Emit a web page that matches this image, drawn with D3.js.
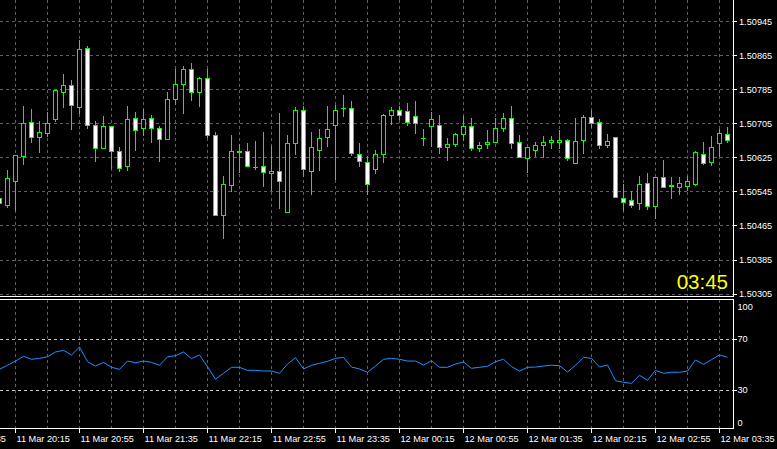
<!DOCTYPE html>
<html><head><meta charset="utf-8">
<script src="https://cdn.jsdelivr.net/npm/d3@7/dist/d3.min.js"></script>
<style>html,body{margin:0;padding:0;background:#000;overflow:hidden}</style>
</head><body>
<svg id="c" width="777" height="449"></svg>
<script>
// ---- data (5-minute candles, index -1 .. 90) ----
const firstIndex = -1;
const opens = [1.50529,1.50512,1.50569,1.50628,1.50708,1.50673,1.50681,1.50714,1.50778,1.50795,1.50742,1.50882,1.50701,1.50646,1.50699,1.50640,1.50604,1.50718,1.50693,1.50718,1.50694,1.50668,1.50761,1.50796,1.50832,1.50778,1.50811,1.50678,1.50490,1.50560,1.50640,1.50640,1.50603,1.50605,1.50588,1.50593,1.50496,1.50658,1.50736,1.50592,1.50641,1.50672,1.50700,1.50741,1.50741,1.50633,1.50614,1.50598,1.50633,1.50724,1.50736,1.50734,1.50722,1.50670,1.50698,1.50701,1.50649,1.50656,1.50679,1.50699,1.50646,1.50656,1.50660,1.50694,1.50718,1.50661,1.50624,1.50642,1.50654,1.50660,1.50660,1.50666,1.50612,1.50666,1.50720,1.50708,1.50654,1.50673,1.50529,1.50525,1.50518,1.50565,1.50511,1.50579,1.50560,1.50556,1.50558,1.50563,1.50633,1.50614,1.50659,1.50680];
const highs = [1.50535,1.50594,1.50631,1.50744,1.50739,1.50709,1.50732,1.50782,1.50821,1.50805,1.50899,1.50887,1.50711,1.50721,1.50699,1.50650,1.50746,1.50730,1.50737,1.50723,1.50698,1.50779,1.50831,1.50838,1.50847,1.50814,1.50831,1.50685,1.50582,1.50678,1.50655,1.50659,1.50664,1.50683,1.50652,1.50728,1.50678,1.50742,1.50746,1.50683,1.50692,1.50744,1.50748,1.50770,1.50758,1.50659,1.50628,1.50641,1.50727,1.50743,1.50745,1.50751,1.50758,1.50692,1.50732,1.50723,1.50669,1.50682,1.50721,1.50718,1.50661,1.50688,1.50718,1.50728,1.50745,1.50676,1.50649,1.50661,1.50674,1.50674,1.50688,1.50668,1.50716,1.50724,1.50736,1.50715,1.50680,1.50673,1.50563,1.50546,1.50580,1.50588,1.50579,1.50619,1.50579,1.50579,1.50581,1.50640,1.50661,1.50674,1.50692,1.50696];
const lows = [1.50514,1.50509,1.50502,1.50608,1.50660,1.50637,1.50674,1.50710,1.50742,1.50691,1.50728,1.50693,1.50617,1.50646,1.50599,1.50592,1.50596,1.50643,1.50678,1.50660,1.50617,1.50668,1.50749,1.50728,1.50760,1.50744,1.50673,1.50490,1.50435,1.50545,1.50590,1.50605,1.50598,1.50557,1.50549,1.50505,1.50496,1.50632,1.50582,1.50538,1.50594,1.50651,1.50575,1.50721,1.50631,1.50604,1.50539,1.50587,1.50613,1.50702,1.50715,1.50700,1.50681,1.50653,1.50651,1.50634,1.50618,1.50651,1.50666,1.50643,1.50639,1.50646,1.50660,1.50686,1.50647,1.50626,1.50590,1.50627,1.50626,1.50646,1.50646,1.50619,1.50612,1.50634,1.50695,1.50646,1.50649,1.50532,1.50501,1.50508,1.50504,1.50504,1.50482,1.50556,1.50529,1.50538,1.50549,1.50560,1.50610,1.50607,1.50628,1.50661];
const closes = [1.50518,1.50577,1.50631,1.50706,1.50673,1.50685,1.50706,1.50782,1.50795,1.50747,1.50879,1.50700,1.50646,1.50699,1.50639,1.50599,1.50715,1.50689,1.50715,1.50693,1.50668,1.50762,1.50797,1.50832,1.50778,1.50811,1.50677,1.50490,1.50563,1.50640,1.50638,1.50605,1.50603,1.50591,1.50593,1.50569,1.50659,1.50736,1.50598,1.50649,1.50671,1.50692,1.50736,1.50741,1.50634,1.50617,1.50563,1.50633,1.50724,1.50736,1.50724,1.50708,1.50706,1.50670,1.50715,1.50649,1.50656,1.50680,1.50699,1.50646,1.50654,1.50661,1.50694,1.50718,1.50659,1.50626,1.50649,1.50654,1.50661,1.50666,1.50666,1.50624,1.50663,1.50720,1.50706,1.50654,1.50663,1.50532,1.50520,1.50513,1.50563,1.50511,1.50579,1.50556,1.50558,1.50565,1.50570,1.50638,1.50612,1.50649,1.50682,1.50666];
const rsiValues = [46.2,49.4,52.7,56.4,54.1,54.8,56.1,59.8,61.1,57.5,63.7,52.2,48.8,51.7,47.8,46.2,52.7,51.4,52.7,51.7,49.4,56.1,56.9,59.8,54.6,57.5,48.3,38.4,43.1,47.8,47.8,45.4,45.4,44.9,44.9,43.1,50.4,55.4,46.5,49.4,50.9,52.5,54.8,55.6,48.0,46.5,43.9,48.8,54.1,54.8,54.1,52.7,52.7,49.6,53.0,47.8,47.8,50.4,52.0,47.0,47.8,48.6,52.2,54.1,48.3,44.9,47.8,48.0,48.8,49.4,49.1,44.1,49.4,55.6,54.8,48.0,49.6,37.3,36.0,35.2,41.5,37.6,45.4,43.1,43.9,43.9,44.9,53.5,50.1,53.8,57.5,55.6];
const priceTicks = [1.50945,1.50865,1.50785,1.50705,1.50625,1.50545,1.50465,1.50385,1.50305];
const rsiTicks = [100,70,30,0];
const rsiLevels = [70,30];
const timeLabels = ["11 Mar 19:35","11 Mar 20:15","11 Mar 20:55","11 Mar 21:35","11 Mar 22:15","11 Mar 22:55","11 Mar 23:35","12 Mar 00:15","12 Mar 00:55","12 Mar 01:35","12 Mar 02:15","12 Mar 02:55","12 Mar 03:35"];
const timeLabelFirstIndex = -7, timeLabelStep = 8;
const clockText = "03:45";

// ---- layout ----
const axisX = 733.5, mainBottom = 296.5, subTop = 299.5, subBottom = 428.5;
const FONT = "'Liberation Sans', Arial, sans-serif";
const svg = d3.select("#c");
svg.append("rect").attr("width",777).attr("height",449).attr("fill","#000");

const x = d3.scaleLinear().domain([-1, 90]).range([-0.5, 727.5]);
const y = d3.scaleLinear().domain([1.50305, 1.50945]).range([294.1, 21.3]);
const yr = d3.scaleLinear().domain([0, 100]).range([428.25, 300.75]);
const snap = v => Math.floor(v) + 0.5;

const gridColor = "#5f5f5f";
const g = svg.append("g").attr("shape-rendering","crispEdges");

// vertical grid (every 4 candles)
const gridIdx = d3.range(1, 91, 4);
g.selectAll(".vg").data(gridIdx).join("line")
  .attr("x1", d => x(d)).attr("x2", d => x(d))
  .attr("y1", 0).attr("y2", subBottom)
  .attr("stroke", gridColor).attr("stroke-dasharray","3,3");

// horizontal price grid
g.selectAll(".hg").data(priceTicks).join("line")
  .attr("x1", 0).attr("x2", axisX)
  .attr("y1", d => snap(y(d))).attr("y2", d => snap(y(d)))
  .attr("stroke", gridColor).attr("stroke-dasharray","3,3");

// rsi levels
g.selectAll(".lv").data(rsiLevels).join("line")
  .attr("x1", 0).attr("x2", axisX)
  .attr("y1", d => snap(yr(d))).attr("y2", d => snap(yr(d)))
  .attr("stroke", "#c8c8c8").attr("stroke-dasharray","3,3");

// candles
const candles = opens.map((o,i) => ({k: firstIndex + i, o, h: highs[i], l: lows[i], c: closes[i]}));
const cg = svg.append("g").attr("shape-rendering","crispEdges");
const lime = "#00ff00";
candles.forEach(d => {
  const cx = x(d.k);
  const yh = snap(y(d.h)), yl = snap(y(d.l));
  cg.append("line").attr("x1",cx).attr("x2",cx).attr("y1",yh-0.5).attr("y2",yl+0.5)
    .attr("stroke",lime);
  const yo = snap(y(d.o)), yc = snap(y(d.c));
  const top = Math.min(yo,yc), bot = Math.max(yo,yc);
  if (bot - top < 1) {
    cg.append("line").attr("x1",cx-2.5).attr("x2",cx+2.5).attr("y1",top).attr("y2",top)
      .attr("stroke",lime);
  } else {
    cg.append("rect").attr("x",cx-2).attr("y",top).attr("width",4).attr("height",bot-top)
      .attr("fill", d.c >= d.o ? "#000" : "#fff").attr("stroke",lime);
  }
});

// rsi line
svg.append("clipPath").attr("id","cp").append("rect").attr("x",0).attr("y",subTop).attr("width",axisX).attr("height",subBottom-subTop);
svg.append("path").datum(rsiValues.map((v,i)=>({k:firstIndex+i, v})))
  .attr("clip-path","url(#cp)")
  .attr("d", d3.line().x(d => x(d.k)).y(d => yr(d.v)))
  .attr("fill","none").attr("stroke","#1e90ff").attr("stroke-width",1);

// frame lines
const f = svg.append("g").attr("stroke","#fff").attr("shape-rendering","crispEdges");
f.append("line").attr("x1",0).attr("x2",axisX).attr("y1",mainBottom).attr("y2",mainBottom);
f.append("line").attr("x1",0).attr("x2",axisX).attr("y1",subTop).attr("y2",subTop);
f.append("line").attr("x1",0).attr("x2",axisX).attr("y1",subBottom).attr("y2",subBottom);
f.append("line").attr("x1",axisX).attr("x2",axisX).attr("y1",0).attr("y2",mainBottom);
f.append("line").attr("x1",axisX).attr("x2",axisX).attr("y1",subTop).attr("y2",subBottom);

// price axis ticks + labels
f.selectAll(".pt").data(priceTicks).join("line")
  .attr("x1",axisX).attr("x2",737).attr("y1",d=>snap(y(d))).attr("y2",d=>snap(y(d)));
svg.selectAll(".pl").data(priceTicks).join("text")
  .attr("x",739).attr("y",d => y(d) + 3.2)
  .attr("fill","#fff").attr("font-family",FONT).attr("font-size","9.2px")
  .text(d => d3.format(".5f")(d));

// rsi axis ticks + labels
f.selectAll(".rt").data(rsiLevels).join("line")
  .attr("x1",axisX).attr("x2",737).attr("y1",d=>snap(yr(d))).attr("y2",d=>snap(yr(d)));
svg.selectAll(".rl").data(rsiTicks).join("text")
  .attr("x",737.5).attr("y",d => Math.min(422.3, Math.max(306.3, yr(d))) + 3.2)
  .attr("fill","#fff").attr("font-family",FONT).attr("font-size","9.2px")
  .text(d => d);

// time axis
const tl = timeLabels.map((t,i)=>({t, k: timeLabelFirstIndex + i*timeLabelStep}));
f.selectAll(".tt").data(tl).join("line")
  .attr("x1",d=>x(d.k)).attr("x2",d=>x(d.k)).attr("y1",subBottom).attr("y2",433);
svg.selectAll(".tx").data(tl).join("text")
  .attr("x",d => x(d.k) + 1).attr("y",441.8)
  .attr("fill","#fff").attr("font-family",FONT).attr("font-size","9.2px")
  .text(d => d.t);

// clock
svg.append("text").attr("x",728).attr("y",288.7).attr("text-anchor","end")
  .attr("fill","#ffff00").attr("font-family",FONT).attr("font-size","20.5px")
  .text(clockText);
</script>
</body></html>
